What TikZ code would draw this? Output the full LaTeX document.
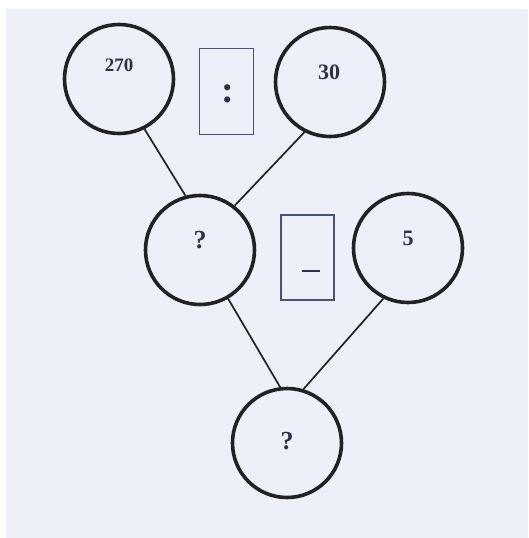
\documentclass[tikz,border=0pt]{standalone}
\usepackage{fontspec}
\setmainfont{Liberation Serif}
\definecolor{paper}{HTML}{EDF0F8}
\definecolor{ink}{HTML}{222226}
\definecolor{txt}{HTML}{2E3244}
\definecolor{boxc}{HTML}{4A5470}
\begin{document}
\begin{tikzpicture}[x=1pt,y=-1pt,
  ring/.style={circle,draw=ink,line width=3.6pt,minimum size=109pt,inner sep=0pt},
  lab/.style={text=txt,font=\bfseries,inner sep=0pt},
  opbox/.style={draw=boxc,line width=1.3pt,minimum width=54pt,minimum height=86pt,inner sep=0pt},
  link/.style={draw=ink,line width=1.7pt}]
\useasboundingbox (0,0) rectangle (528,538);
\fill[white] (0,0) rectangle (528,538);
\fill[paper] (6,9) rectangle (528,538);
% circles
\node[ring] (a) at (119,79) {};
\node[ring] (b) at (330,82) {};
\node[ring] (c) at (200,250) {};
\node[ring] (d) at (408,248) {};
\node[ring] (e) at (287,443) {};
% labels
\node[lab,font=\fontsize{19}{19}\selectfont\bfseries] (ta) at (119,65) {270};
\node[lab,font=\fontsize{22}{22}\selectfont\bfseries] (tb) at (329,72) {30};
\node[lab,font=\fontsize{26}{26}\selectfont\bfseries] (tc) at (200,240) {?};
\node[lab,font=\fontsize{22}{22}\selectfont\bfseries] (td) at (408,238) {5};
\node[lab,font=\fontsize{26}{26}\selectfont\bfseries] (te) at (287,441) {?};
% operator boxes
\node[opbox] (op1) at (226.5,91.5) {};
\node[opbox,minimum width=53pt,minimum height=85pt] (op2) at (307.5,257.5) {};
\node[lab,font=\fontsize{38}{38}\selectfont\bfseries] (c1) at (228,94) {:};
\draw[txt,line width=1.5pt] (302,271) coordinate (m1) -- (320,271) coordinate (m2);
% connectors
\draw[link] (a.297) -- (c.105);
\draw[link] (b.243) -- (c.52);
\draw[link] (c.300) -- (e.97);
\draw[link] (d.244) -- (e.73);
\end{tikzpicture}
\end{document}
